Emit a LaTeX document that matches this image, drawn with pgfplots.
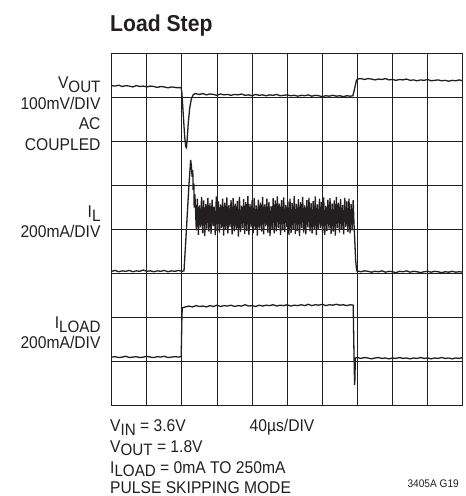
\documentclass[border=0pt]{standalone}
\usepackage{fontspec}
\setmainfont{Liberation Sans}[FakeStretch=0.92]
\usepackage{pgfplots}
\pgfplotsset{compat=1.18}
\definecolor{ink}{HTML}{231F20}
\newcommand\sub[1]{\raisebox{-0.2em}{\fontsize{16.5}{16.5}\selectfont #1}}
\begin{document}
\begin{tikzpicture}[x=1pt,y=1pt]
\useasboundingbox (0,0) rectangle (466,496);
\begin{axis}[
  at={(111.7pt,90.5pt)}, anchor=south west,
  scale only axis, width=351pt, height=352pt,
  xmin=0, xmax=10, ymin=0, ymax=8,
  xtick={0,...,10}, ytick={0,...,8},
  xticklabels={}, yticklabels={},
  major tick length=0pt,
  grid=major,
  grid style={ink, line width=0.9pt},
  axis line style={ink, line width=1.3pt},
  clip=true,
]
% V_OUT
\addplot[ink, line width=1.3pt] coordinates {
(0.0,7.27)(0.1,7.26)(0.2,7.28)(0.3,7.25)(0.4,7.27)(0.5,7.26)(0.6,7.24)(0.7,7.27)(0.8,7.25)(0.9,7.26)(1.0,7.24)(1.1,7.26)(1.2,7.25)(1.3,7.23)(1.4,7.25)(1.5,7.24)(1.6,7.22)(1.7,7.24)(1.8,7.23)(1.9,7.22)(1.98,7.23)
(2.00,7.1)(2.04,6.6)(2.08,6.1)(2.11,5.88)(2.13,5.86)(2.15,6.05)(2.18,6.4)(2.22,6.75)(2.27,6.97)(2.32,7.06)(2.38,7.09)
(2.5,7.07)(2.6,7.09)(2.7,7.06)(2.8,7.08)(2.9,7.07)(3.0,7.05)(3.1,7.08)(3.2,7.06)(3.3,7.07)(3.4,7.05)(3.5,7.07)(3.6,7.06)(3.7,7.08)(3.8,7.05)(3.9,7.06)(4.0,7.04)(4.1,7.07)(4.2,7.05)(4.3,7.06)(4.4,7.04)(4.5,7.06)(4.6,7.05)(4.7,7.07)(4.8,7.04)(4.9,7.05)(5.0,7.06)(5.1,7.04)(5.2,7.05)(5.3,7.03)(5.4,7.05)(5.5,7.04)(5.6,7.06)(5.7,7.03)(5.8,7.05)(5.9,7.04)(6.0,7.02)(6.1,7.04)(6.2,7.03)(6.3,7.05)(6.4,7.03)(6.5,7.04)(6.6,7.02)(6.7,7.04)(6.8,7.03)(6.87,7.04)
(6.92,7.2)(6.97,7.38)(7.0,7.42)(7.1,7.43)(7.2,7.41)(7.3,7.43)(7.4,7.42)(7.5,7.40)(7.6,7.42)(7.7,7.41)(7.8,7.43)(7.9,7.40)(8.0,7.41)(8.1,7.39)(8.2,7.41)(8.3,7.40)(8.4,7.42)(8.5,7.39)(8.6,7.40)(8.7,7.38)(8.8,7.40)(8.9,7.39)(9.0,7.41)(9.1,7.38)(9.2,7.39)(9.3,7.40)(9.4,7.38)(9.5,7.39)(9.6,7.37)(9.7,7.39)(9.8,7.38)(9.9,7.40)(10.0,7.38)
};
% I_L
\addplot[ink, line width=1.3pt] coordinates {
(0.0,3.05)(0.1,3.07)(0.2,3.04)(0.3,3.06)(0.4,3.05)(0.5,3.07)(0.6,3.04)(0.7,3.06)(0.8,3.05)(0.9,3.08)(1.0,3.05)(1.1,3.06)(1.2,3.04)(1.3,3.06)(1.4,3.05)(1.5,3.07)(1.6,3.04)(1.7,3.06)(1.8,3.05)(1.9,3.07)(2.0,3.05)(2.06,3.06)
(2.10,3.6)(2.15,4.3)(2.20,5.0)(2.25,5.58)(2.27,5.45)(2.29,5.2)(2.31,5.35)(2.32,4.9)(2.34,5.05)(2.35,4.5)(2.37,4.8)
(2.38,4.62)(2.41,3.98)(2.44,4.70)(2.47,3.88)(2.50,4.55)(2.53,4.05)(2.56,4.74)(2.59,3.92)(2.62,4.66)(2.65,3.85)
(2.68,4.58)(2.71,4.02)(2.74,4.72)(2.77,3.95)(2.80,4.60)(2.83,3.90)(2.86,4.68)(2.89,4.08)(2.92,4.52)(2.95,3.87)
(2.98,4.75)(3.01,3.97)(3.04,4.64)(3.07,3.93)(3.10,4.57)(3.13,4.04)(3.16,4.70)(3.19,3.86)(3.22,4.61)(3.25,3.99)
(3.28,4.73)(3.31,3.91)(3.34,4.56)(3.37,4.06)(3.40,4.67)(3.43,3.89)(3.46,4.71)(3.49,3.96)(3.52,4.59)(3.55,4.01)
(3.58,4.65)(3.61,3.84)(3.64,4.74)(3.67,3.94)(3.70,4.54)(3.73,4.03)(3.76,4.69)(3.79,3.90)(3.82,4.62)(3.85,3.97)
(3.88,4.76)(3.91,3.87)(3.94,4.58)(3.97,4.05)(4.00,4.66)(4.03,3.92)(4.06,4.72)(4.09,3.99)(4.12,4.55)(4.15,3.86)
(4.18,4.68)(4.21,4.02)(4.24,4.61)(4.27,3.95)(4.30,4.74)(4.33,3.89)(4.36,4.57)(4.39,4.07)(4.42,4.70)(4.45,3.93)
(4.48,4.63)(4.51,3.85)(4.54,4.53)(4.57,4.00)(4.60,4.71)(4.63,3.91)(4.66,4.66)(4.69,3.96)(4.72,4.75)(4.75,4.04)
(4.78,4.59)(4.81,3.88)(4.84,4.67)(4.87,3.98)(4.90,4.73)(4.93,3.94)(4.96,4.56)(4.99,4.06)(5.02,4.64)(5.05,3.87)
(5.08,4.70)(5.11,3.92)(5.14,4.60)(5.17,4.01)(5.20,4.76)(5.23,3.90)(5.26,4.58)(5.29,3.97)(5.32,4.69)(5.35,3.85)
(5.38,4.62)(5.41,4.03)(5.44,4.74)(5.47,3.93)(5.50,4.55)(5.53,3.89)(5.56,4.67)(5.59,4.05)(5.62,4.72)(5.65,3.96)
(5.68,4.60)(5.71,3.91)(5.74,4.65)(5.77,4.00)(5.80,4.75)(5.83,3.87)(5.86,4.57)(5.89,3.99)(5.92,4.70)(5.95,4.04)
(5.98,4.63)(6.01,3.92)(6.04,4.73)(6.07,3.88)(6.10,4.54)(6.13,3.97)(6.16,4.68)(6.19,4.02)(6.22,4.71)(6.25,3.90)
(6.28,4.59)(6.31,3.95)(6.34,4.66)(6.37,3.86)(6.40,4.74)(6.43,4.03)(6.46,4.61)(6.49,3.93)(6.52,4.69)(6.55,3.99)
(6.58,4.56)(6.61,3.89)(6.64,4.72)(6.67,4.06)(6.70,4.64)(6.73,3.94)(6.76,4.70)(6.79,3.91)(6.82,4.58)(6.85,3.98)
(6.88,4.67)(6.90,4.2)(6.95,3.3)(6.98,3.06)
(7.1,3.04)(7.2,3.06)(7.3,3.05)(7.4,3.03)(7.5,3.05)(7.6,3.04)(7.7,3.06)(7.8,3.03)(7.9,3.05)(8.0,3.04)(8.1,3.02)(8.2,3.05)(8.3,3.04)(8.4,3.06)(8.5,3.03)(8.6,3.05)(8.7,3.04)(8.8,3.02)(8.9,3.04)(9.0,3.05)(9.1,3.03)(9.2,3.05)(9.3,3.04)(9.4,3.02)(9.5,3.04)(9.6,3.03)(9.7,3.05)(9.8,3.03)(9.9,3.04)(10.0,3.03)
};
% I_LOAD
\addplot[ink, line width=1.3pt] coordinates {
(0.0,1.10)(0.1,1.11)(0.2,1.09)(0.3,1.10)(0.4,1.12)(0.5,1.09)(0.6,1.10)(0.7,1.11)(0.8,1.09)(0.9,1.10)(1.0,1.12)(1.1,1.10)(1.2,1.09)(1.3,1.11)(1.4,1.10)(1.5,1.12)(1.6,1.09)(1.7,1.10)(1.8,1.11)(1.9,1.10)(1.98,1.11)
(2.00,2.0)(2.01,2.22)(2.1,2.24)(2.2,2.26)(2.3,2.24)(2.4,2.27)(2.5,2.25)(2.6,2.26)(2.7,2.24)(2.8,2.27)(2.9,2.25)(3.0,2.28)(3.1,2.25)(3.2,2.27)(3.3,2.26)(3.4,2.28)(3.5,2.25)(3.6,2.27)(3.7,2.26)(3.8,2.29)(3.9,2.26)(4.0,2.27)(4.1,2.25)(4.2,2.28)(4.3,2.26)(4.4,2.28)(4.5,2.27)(4.6,2.29)(4.7,2.26)(4.8,2.28)(4.9,2.27)(5.0,2.29)(5.1,2.26)(5.2,2.28)(5.3,2.27)(5.4,2.29)(5.5,2.27)(5.6,2.30)(5.7,2.27)(5.8,2.29)(5.9,2.28)(6.0,2.30)(6.1,2.27)(6.2,2.29)(6.3,2.28)(6.4,2.30)(6.5,2.28)(6.6,2.29)(6.7,2.27)(6.8,2.29)(6.88,2.28)
(6.90,1.3)(6.92,0.47)(6.93,0.6)(6.94,1.08)(7.0,1.09)(7.1,1.07)(7.2,1.09)(7.3,1.08)(7.4,1.06)(7.5,1.08)(7.6,1.09)(7.7,1.07)(7.8,1.08)(7.9,1.06)(8.0,1.08)(8.1,1.07)(8.2,1.09)(8.3,1.07)(8.4,1.08)(8.5,1.06)(8.6,1.08)(8.7,1.07)(8.8,1.09)(8.9,1.07)(9.0,1.08)(9.1,1.06)(9.2,1.08)(9.3,1.07)(9.4,1.09)(9.5,1.07)(9.6,1.08)(9.7,1.06)(9.8,1.08)(9.9,1.07)(10.0,1.09)
};
\end{axis}
% title
\node[anchor=base west, inner sep=0, text=ink] at (110,464.3) {\fontsize{23}{26}\selectfont\bfseries Load Step};
% left labels
\begin{scope}[every node/.style={anchor=base east, inner sep=0, text=ink, font=\fontsize{17}{20}\selectfont}]
\node at (100.7,407) {V\sub{OUT}};
\node at (100.7,386.7) {100mV/DIV};
\node at (100.7,366) {AC};
\node at (100.7,345) {COUPLED};
\node at (100.7,278) {I\sub{L}};
\node at (100.7,258) {200mA/DIV};
\node at (100.7,167) {I\sub{LOAD}};
\node at (100.7,147) {200mA/DIV};
\end{scope}
% bottom text
\begin{scope}[every node/.style={anchor=base west, inner sep=0, text=ink, font=\fontsize{17}{20}\selectfont}]
\node at (110,64.2) {V\sub{IN} = 3.6V};
\node at (249.5,64.2) {40µs/DIV};
\node at (110,43.5) {V\sub{OUT} = 1.8V};
\node at (110,23) {I\sub{LOAD} = 0mA TO 250mA};
\node at (110,2.5) {PULSE SKIPPING MODE};
\end{scope}
\node[anchor=base east, inner sep=0, text=ink, font=\fontsize{11}{13}\selectfont] at (459,9) {3405A G19};
\end{tikzpicture}
\end{document}
